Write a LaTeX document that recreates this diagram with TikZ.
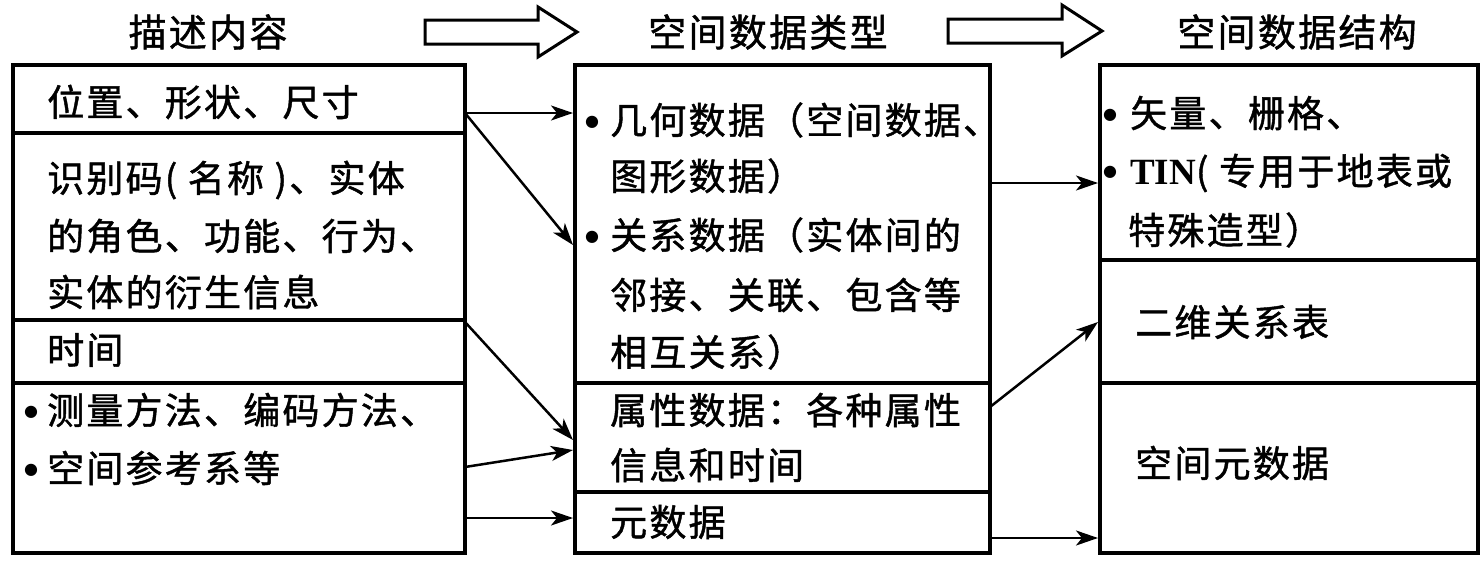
\documentclass[tikz,border=0pt]{standalone}
\usepackage{fontspec}
\newfontfamily\cjk{Noto Sans CJK SC}[LetterSpace=6,FakeBold=1.2]
\newfontfamily\tnr{Liberation Serif}
\newfontfamily\djv{DejaVu Sans}
\usetikzlibrary{arrows.meta,calc}
\newcommand\bul[1]{\llap{\makebox[#1][c]{\raisebox{8pt}{\djv\fontsize{16}{16}\selectfont ●}}}}
\begin{document}
\begin{tikzpicture}[x=1pt,y=-1pt,
  cell/.style={draw, line width=3.5pt, anchor=north west, inner sep=0pt, outer sep=0pt},
  txt/.style={anchor=west, inner sep=0pt, font=\cjk\fontsize{37}{44}\selectfont},
  hdr/.style={anchor=center, inner sep=0pt, font=\cjk\fontsize{38}{44}\selectfont},
  blockarrow/.style={draw, line width=3pt, line join=miter, fill=white},
  link/.style={line width=2.5pt, -{Stealth[length=22pt,width=15pt,inset=6pt]}}]
\useasboundingbox (0,0) rectangle (1483,560);
% headers
\node[hdr] (H1) at (208,32) {描述内容};
\node[hdr] (H2) at (768,32) {空间数据类型};
\node[hdr] (H3) at (1297,32) {空间数据结构};
% block arrows
\draw[blockarrow] (425,20) -- (538,20) -- (538,7) -- (577,32) -- (538,57) -- (538,44) -- (425,44) -- cycle;
\draw[blockarrow] (948,19) -- (1062,19) -- (1062,5) -- (1102,31) -- (1062,56) -- (1062,43) -- (948,43) -- cycle;
% left column
\node[cell, minimum width=452pt, minimum height=68pt] (L1) at (13,65) {};
\node[cell, minimum width=452pt, minimum height=187pt] (L2) at (13,133) {};
\node[cell, minimum width=452pt, minimum height=63pt] (L3) at (13,320) {};
\node[cell, minimum width=452pt, minimum height=170pt] (L4) at (13,383) {};
% middle column
\node[cell, minimum width=415pt, minimum height=318pt] (M1) at (575,65) {};
\node[cell, minimum width=415pt, minimum height=109pt] (M2) at (575,383) {};
\node[cell, minimum width=415pt, minimum height=61pt] (M3) at (575,492) {};
% right column
\node[cell, minimum width=378pt, minimum height=195pt] (R1) at (1100,65) {};
\node[cell, minimum width=378pt, minimum height=123pt] (R2) at (1100,260) {};
\node[cell, minimum width=378pt, minimum height=170pt] (R3) at (1100,383) {};
% left texts
\node[txt] (t1) at (47,102) {位置、形状、尺寸};
\node[txt] (t2) at (47,180) {识别码( 名称 )、实体};
\node[txt] (t3) at (47,236) {的角色、功能、行为、};
\node[txt] (t4) at (47,292) {实体的衍生信息};
\node[txt] (t5) at (47,350) {时间};
\node[txt] (t6) at (47,410) {\bul{32pt}测量方法、编码方法、};
\node[txt] (t7) at (47,468) {\bul{32pt}空间参考系等};
% middle texts
\node[txt] (m1) at (610,120) {\bul{36pt}几何数据（空间数据、};
\node[txt] (m2) at (610,176) {图形数据）};
\node[txt] (m3) at (610,235) {\bul{36pt}关系数据（实体间的};
\node[txt] (m4) at (610,295) {邻接、关联、包含等};
\node[txt] (m5) at (610,352) {相互关系）};
\node[txt] (m6) at (610,410) {属性数据：各种属性};
\node[txt] (m7) at (610,465) {信息和时间};
\node[txt] (m8) at (610,522) {元数据};
% right texts
\node[txt] (r1) at (1130,113) {\bul{40pt}矢量、栅格、};
\node[txt] (r2) at (1130,173) {\bul{40pt}{\tnr\bfseries TIN}( 专用于地表或};
\node[txt] (r3) at (1128,230) {特殊造型）};
\node[txt] (r4) at (1135,322) {二维关系表};
\node[txt] (r5) at (1135,463) {空间元数据};
% connectors
\draw[link] ($(L1.east)+(0,14)$) -- ($(M1.west)+(-2,-111)$);
\draw[link] ($(L1.east)+(0,14)$) -- ($(M1.west)+(-2,21)$);
\draw[link] ($(L3.north east)+(0,2)$) -- ($(M2.west)+(-2,2.5)$);
\draw[link] ($(L4.east)+(0,-1)$) -- ($(M2.west)+(-2,12.5)$);
\draw[link] ($(L4.east)+(0,50)$) -- ($(M3.west)+(-2,-4.5)$);
\draw[link] ($(M1.east)+(0,-41)$) -- ($(R1.west)+(-2,20.5)$);
\draw[link] ($(M2.east)+(0,-30.5)$) -- ($(R2.west)+(-2,0.5)$);
\draw[link] ($(M3.east)+(0,15.5)$) -- ($(R3.west)+(-2,70)$);
\end{tikzpicture}
\end{document}
